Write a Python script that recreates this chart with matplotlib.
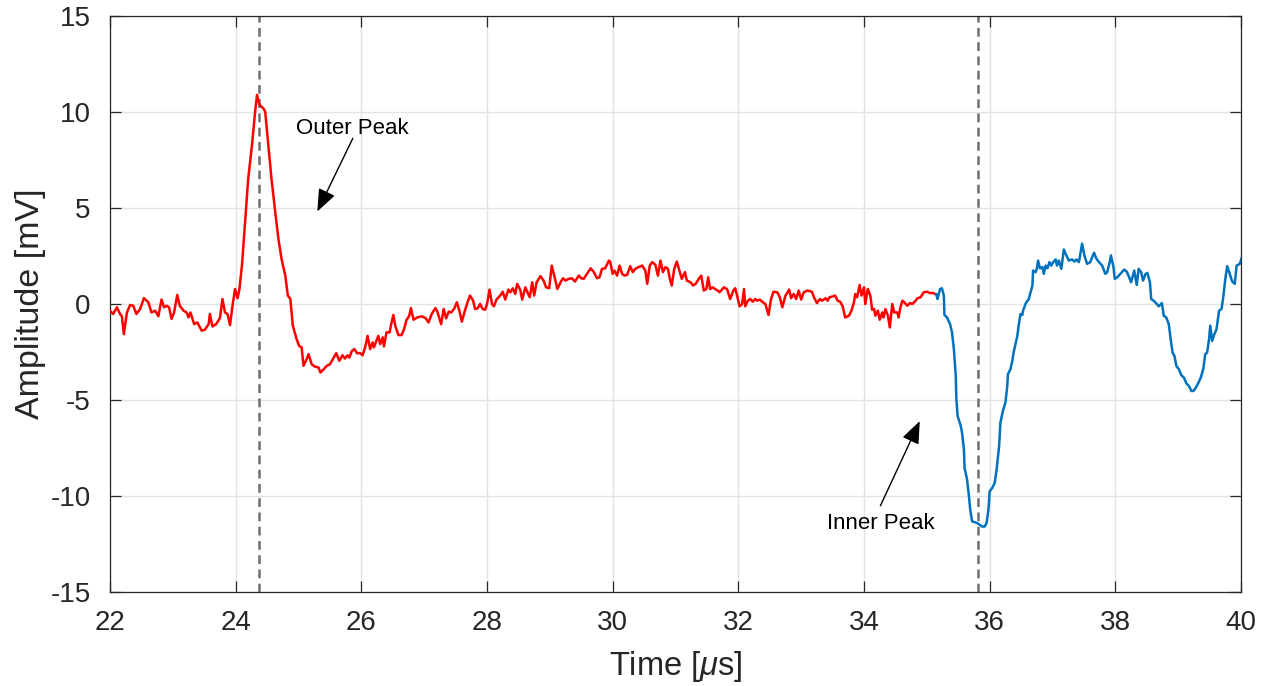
import numpy as np
import matplotlib
matplotlib.use("Agg")
import matplotlib.pyplot as plt

plt.rcParams['font.family'] = ['Liberation Sans', 'DejaVu Sans']
plt.rcParams['mathtext.fontset'] = 'custom'
plt.rcParams['mathtext.rm'] = 'Liberation Sans'
plt.rcParams['mathtext.it'] = 'Liberation Sans:italic'
plt.rcParams['axes.unicode_minus'] = False

# outer trace (red), time in us, amplitude in mV
outer_t = [22.00, 22.05, 22.11, 22.16, 22.19, 22.22, 22.27, 22.32, 22.37, 22.42,
           22.48, 22.54, 22.61, 22.66, 22.72, 22.77, 22.82, 22.86, 22.90, 22.94,
           22.98, 23.02, 23.07, 23.11, 23.17, 23.22, 23.25, 23.28, 23.34, 23.39,
           23.46, 23.51, 23.57, 23.59, 23.63, 23.69, 23.75, 23.79, 23.83, 23.87,
           23.91, 23.95, 23.99, 24.03, 24.06, 24.10, 24.15, 24.20, 24.26, 24.31,
           24.34, 24.38, 24.44, 24.47, 24.52, 24.57, 24.63, 24.68, 24.73, 24.79,
           24.83, 24.87, 24.91, 24.97, 25.01, 25.05, 25.08, 25.13, 25.16, 25.21,
           25.26, 25.32, 25.35, 25.40, 25.45,
           25.50, 25.56, 25.60, 25.65, 25.70, 25.74, 25.78, 25.81, 25.85, 25.89,
           25.93, 25.98, 26.02, 26.06, 26.10, 26.14, 26.18, 26.20, 26.24, 26.27,
           26.30, 26.34, 26.36, 26.40, 26.45, 26.47, 26.51, 26.54, 26.59, 26.64,
           26.68, 26.72, 26.76, 26.79, 26.83, 26.89, 26.96, 27.02, 27.07, 27.12,
           27.18, 27.21, 27.27, 27.31, 27.35, 27.39, 27.43, 27.48, 27.52, 27.56,
           27.60, 27.64, 27.69, 27.73, 27.78, 27.81, 27.85, 27.89, 27.93, 27.97,
           28.00, 28.04, 28.08, 28.11, 28.15, 28.21, 28.25, 28.29, 28.34, 28.37,
           28.41, 28.45, 28.48, 28.53, 28.56, 28.61, 28.64, 28.68, 28.72, 28.75,
           28.79, 28.85, 28.90, 28.94, 28.99, 29.03, 29.07, 29.12,
           29.17, 29.21, 29.25, 29.30, 29.35, 29.40, 29.46, 29.50, 29.54, 29.59,
           29.65, 29.70, 29.75, 29.79, 29.83, 29.88, 29.94, 29.96, 30.00, 30.03,
           30.07, 30.11, 30.15, 30.19, 30.23, 30.28, 30.32, 30.36, 30.41, 30.47,
           30.52, 30.55, 30.59, 30.63, 30.68, 30.72, 30.76, 30.80, 30.84, 30.88,
           30.91, 30.94, 30.98, 31.02, 31.07, 31.10, 31.15, 31.18, 31.24, 31.28,
           31.32, 31.37, 31.41, 31.45, 31.49, 31.52, 31.55, 31.59, 31.63, 31.67,
           31.70, 31.77, 31.82, 31.87, 31.92, 31.95, 31.98, 32.02, 32.06, 32.09,
           32.11, 32.15, 32.19, 32.23, 32.27, 32.30, 32.34, 32.39, 32.43, 32.48,
           32.52, 32.56, 32.62, 32.66, 32.70, 32.75, 32.81, 32.84, 32.88, 32.92,
           32.96, 33.00, 33.04, 33.10,
           33.17, 33.21, 33.25, 33.30, 33.33, 33.39, 33.42, 33.45, 33.51, 33.54,
           33.58, 33.62, 33.66, 33.70, 33.76, 33.80, 33.84, 33.86, 33.89, 33.93,
           33.96, 34.00, 34.02, 34.06, 34.10, 34.13, 34.16, 34.18, 34.22, 34.25,
           34.29, 34.31, 34.34, 34.38, 34.41, 34.45, 34.48, 34.53, 34.55, 34.58,
           34.61, 34.64, 34.69, 34.73, 34.77, 34.82, 34.85, 34.90, 34.95, 35.00,
           35.05, 35.10, 35.15]
outer_v = [-0.35, -0.52, -0.17, -0.52, -0.64, -1.57, -0.44, -0.05, -0.09, -0.52,
           -0.26, 0.31, 0.09, -0.44, -0.35, -0.64, 0.23, -0.17, -0.09, -0.17,
           -0.78, -0.44, 0.47, -0.09, -0.35, -0.44, -0.70, -0.44, -1.05, -0.96,
           -1.39, -1.34, -1.05, -0.52, -1.17, -1.05, -0.73, 0.26, -0.44, -0.52,
           -1.10, -0.09, 0.78, 0.30, 0.78, 2.00, 4.27, 6.53, 8.28, 10.02,
           10.89, 10.37, 10.19, 10.02, 8.28, 6.53, 4.79, 3.40, 2.35, 1.48,
           0.44, 0.26, -1.13, -1.83, -2.18, -2.26, -3.22, -2.87, -2.61, -3.14,
           -3.26, -3.31, -3.57, -3.40, -3.22,
           -3.14, -2.79, -2.56, -2.96, -2.67, -2.84, -2.67, -2.79, -2.44, -2.35,
           -2.56, -2.56, -2.67, -2.26, -1.66, -2.35, -2.00, -2.26, -1.92, -1.66,
           -2.09, -1.74, -2.21, -1.48, -1.48, -1.13, -0.57, -1.13, -1.62, -1.62,
           -1.31, -0.82, -0.64, -0.21, -0.82, -0.70, -0.64, -0.73, -0.96, -0.52,
           -0.21, -0.40, -1.05, -0.26, -0.75, -0.40, -0.44, -0.23, 0.09, -0.35,
           -0.92, -0.44, 0.09, 0.44, 0.17, -0.26, -0.23, 0.00, -0.26, -0.30,
           0.00, 0.75, 0.00, -0.12, 0.23, 0.44, 0.64, 0.23, 0.75, 0.61,
           0.82, 0.52, 1.05, 0.73, 0.23, 0.87, 0.64, 0.35, 1.13, 0.44,
           1.13, 1.45, 1.22, 0.87, 0.82, 2.00, 1.48, 0.78,
           1.13, 1.34, 1.22, 1.31, 1.34, 1.17, 1.48, 1.34, 1.31, 1.57,
           1.86, 1.66, 1.34, 1.39, 1.83, 1.86, 2.26, 2.21, 1.57, 1.74,
           1.48, 2.00, 1.57, 1.48, 1.52, 1.97, 1.66, 1.83, 1.92, 2.00,
           1.74, 1.05, 2.00, 2.18, 2.04, 1.48, 2.26, 1.66, 1.92, 1.83,
           1.31, 0.96, 1.83, 2.21, 1.66, 1.31, 1.66, 1.22, 1.13, 0.96,
           1.05, 1.31, 1.48, 0.70, 0.78, 1.39, 0.78, 0.87, 0.78, 0.70,
           0.61, 0.87, 0.78, 0.26, 0.70, 0.82, 0.44, -0.12, 0.00, 0.78,
           -0.12, 0.17, 0.26, 0.12, 0.26, 0.17, 0.23, 0.09, 0.00, -0.57,
           0.26, 0.64, 0.61, 0.35, -0.17, 0.44, 0.75, 0.30, 0.52, 0.26,
           0.70, 0.23, 0.61, 0.70,
           0.64, 0.30, 0.05, 0.26, 0.17, 0.30, 0.17, 0.35, 0.40, 0.44,
           0.17, 0.12, -0.12, -0.70, -0.61, -0.35, 0.09, 0.52, 0.35, 0.99,
           0.44, 0.87, 0.00, 0.78, 0.44, -0.30, -0.26, -0.61, -0.35, -0.82,
           -0.44, -0.70, -0.26, -0.61, -1.22, 0.00, -0.44, -0.44, -0.70, -0.17,
           0.17, 0.09, -0.09, 0.05, 0.00, 0.17, 0.30, 0.35, 0.61, 0.64,
           0.57, 0.57, 0.50]

# inner trace (blue)
inner_t = [35.15, 35.17, 35.21, 35.24, 35.27, 35.28, 35.32, 35.37, 35.40, 35.43,
           35.46, 35.47, 35.49, 35.54, 35.56, 35.59, 35.60, 35.64, 35.67, 35.69,
           35.72, 35.76, 35.80, 35.84, 35.88, 35.92, 35.95, 35.98, 36.00, 36.04,
           36.08, 36.11, 36.15, 36.17, 36.21, 36.25, 36.28, 36.29, 36.33, 36.36,
           36.38, 36.41, 36.44, 36.46, 36.49, 36.52, 36.53, 36.57, 36.60, 36.62,
           36.65, 36.68, 36.69, 36.73, 36.75, 36.77, 36.80, 36.84, 36.86, 36.89,
           36.92, 36.95, 36.98, 37.01, 37.05, 37.07, 37.10, 37.14, 37.18, 37.22,
           37.26, 37.31, 37.35, 37.38, 37.42, 37.47, 37.51, 37.55, 37.60, 37.66,
           37.70, 37.74, 37.79, 37.84, 37.87, 37.91, 37.93, 37.97, 37.99, 38.03,
           38.08, 38.14, 38.18, 38.22, 38.25, 38.30, 38.34, 38.37, 38.41, 38.44,
           38.48, 38.51, 38.55, 38.57, 38.61, 38.66, 38.69, 38.74, 38.77, 38.81,
           38.85, 38.88, 38.91, 38.94, 38.97, 39.01, 39.05, 39.09, 39.13, 39.17,
           39.21, 39.24, 39.28, 39.31, 39.36, 39.40, 39.43, 39.46, 39.49, 39.51,
           39.54, 39.57, 39.61, 39.65, 39.69, 39.72, 39.75, 39.78, 39.82, 39.86,
           39.90, 39.93, 39.98, 40.02]
inner_v = [0.50, 0.26, 0.78, 0.82, 0.44, -0.57, -0.70, -1.05, -1.48, -2.35,
           -3.75, -4.97, -5.84, -6.36, -6.71, -7.58, -8.54, -9.15, -10.02, -10.71,
           -11.32, -11.36, -11.41, -11.50, -11.59, -11.59, -11.41, -10.71, -9.76, -9.58,
           -9.32, -8.62, -7.40, -6.18, -5.57, -5.14, -4.27, -3.66, -3.40, -2.96,
           -2.53, -2.09, -1.66, -1.13, -0.52, -0.57, -0.35, 0.00, 0.17, 0.23,
           0.61, 0.96, 1.74, 1.66, 1.83, 2.26, 1.86, 1.92, 1.57, 2.00,
           1.86, 2.18, 2.00, 2.18, 2.32, 2.00, 2.26, 1.83, 2.84, 2.53,
           2.26, 2.32, 2.21, 2.32, 2.18, 3.14, 2.49, 2.09, 2.18, 2.67,
           2.35, 2.18, 2.00, 1.57, 1.66, 2.18, 2.53, 1.92, 1.31, 1.39,
           1.57, 1.79, 1.69, 1.39, 1.13, 1.74, 0.99, 1.83, 1.66, 1.22,
           1.57, 1.62, 1.13, 0.26, 0.17, 0.00, -0.12, 0.05, -0.61, -0.70,
           -1.05, -1.83, -2.53, -2.70, -3.22, -3.40, -3.71, -3.83, -4.13, -4.27,
           -4.53, -4.53, -4.36, -4.18, -3.83, -3.36, -2.61, -2.53, -1.86, -1.13,
           -1.92, -1.62, -1.31, -0.35, -0.26, 0.44, 1.31, 1.97, 1.57, 1.17,
           1.05, 2.00, 2.09, 2.49]

peak_times = [24.37, 35.81]

fig = plt.figure(figsize=(12.7, 6.86), dpi=100)
ax = fig.add_axes([0.0866, 0.137, 0.8906, 0.8397])

ax.plot(outer_t, outer_v, color='#ff0000', lw=1.8, zorder=3)
ax.plot(inner_t, inner_v, color='#0072bd', lw=1.8, zorder=3)
for pt in peak_times:
    ax.axvline(pt, color='#6e6e6e', lw=1.8, ls=(0, (3.5, 2.2)), zorder=2)

ax.set_xlim(22, 40)
ax.set_ylim(-15, 15)
ax.set_xticks(np.arange(22, 41, 2))
ax.set_yticks(np.arange(-15, 16, 5))
ax.grid(True, color='#e3e3e3', lw=1.0)
ax.set_axisbelow(True)

for sp in ax.spines.values():
    sp.set_color('#262626')
    sp.set_linewidth(0.9)
ax.tick_params(direction='in', length=8, width=0.9, colors='#262626',
               labelsize=20, top=True, right=True)
ax.tick_params(axis='x', pad=13)
ax.tick_params(axis='y', pad=14)

ax.set_xlabel(r'Time [$\mu$s]', fontsize=23.5, color='#262626', labelpad=9)
ax.set_ylabel('Amplitude [mV]', fontsize=24.5, color='#262626', labelpad=3)

arrow = dict(arrowstyle='-|>,head_length=0.55,head_width=0.22',
             color='black', lw=1.0, mutation_scale=25, shrinkA=0, shrinkB=0)
ax.annotate('', xy=(25.30, 4.82), xytext=(25.865, 8.63), arrowprops=arrow)
ax.text(25.85, 9.15, 'Outer Peak', fontsize=16, ha='center', va='center')
ax.annotate('', xy=(34.887, -6.10), xytext=(34.26, -10.51), arrowprops=arrow)
ax.text(34.26, -11.45, 'Inner Peak', fontsize=16, ha='center', va='center')

fig.savefig('out.png', dpi=100)
